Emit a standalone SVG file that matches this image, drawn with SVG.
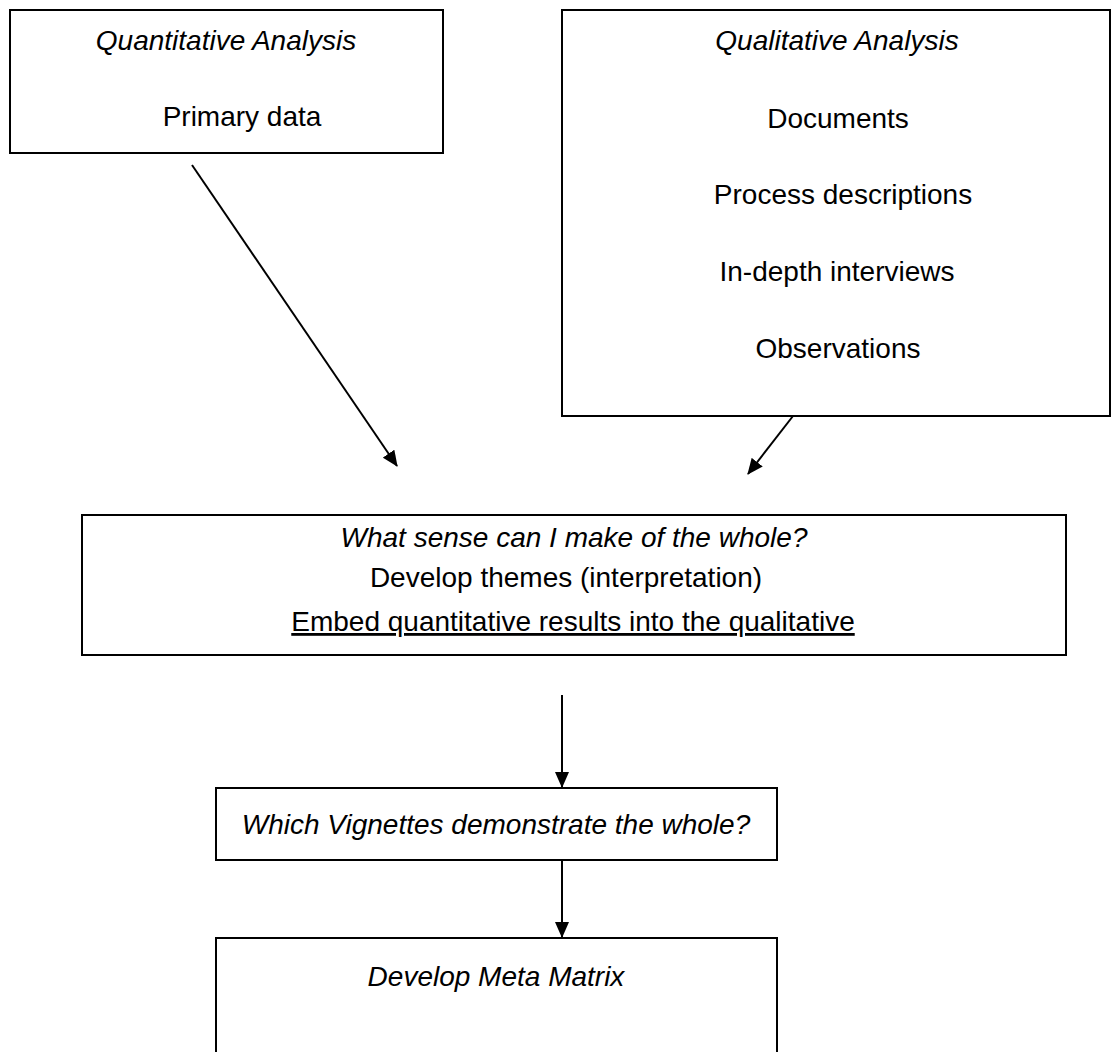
<svg xmlns="http://www.w3.org/2000/svg" width="1111" height="1052" viewBox="0 0 1111 1052">
<style>
.box{fill:#fff;stroke:#000;stroke-width:2}
.t{font-family:"Liberation Sans",Arial,sans-serif;font-size:28px;fill:#000;text-anchor:middle}
.i{font-style:italic}
.c{stroke:#000;stroke-width:2;fill:none}
</style>
<defs>
<marker id="ah" markerWidth="16" markerHeight="14" refX="15" refY="7" orient="auto" markerUnits="userSpaceOnUse" viewBox="0 0 16 14">
<path d="M0,0 L16,7 L0,14 z" fill="#000"/>
</marker>
</defs>
<rect width="1111" height="1052" fill="#fff"/>
<g id="connectors">
<line class="c" x1="192" y1="165" x2="397" y2="466" marker-end="url(#ah)"/>
<line class="c" x1="793" y1="416" x2="748" y2="474" marker-end="url(#ah)"/>
<line class="c" x1="562" y1="695" x2="562" y2="787" marker-end="url(#ah)"/>
<line class="c" x1="562" y1="860" x2="562" y2="937" marker-end="url(#ah)"/>
</g>
<g id="quant">
<rect class="box" x="10" y="10" width="433" height="143"/>
<text class="t i" x="226" y="50">Quantitative Analysis</text>
<text class="t" x="242" y="126">Primary data</text>
</g>
<g id="qual">
<rect class="box" x="562" y="10" width="548" height="406"/>
<text class="t i" x="837" y="50">Qualitative Analysis</text>
<text class="t" x="838" y="128">Documents</text>
<text class="t" x="843" y="204">Process descriptions</text>
<text class="t" x="837" y="281">In-depth interviews</text>
<text class="t" x="838" y="358">Observations</text>
</g>
<g id="sense">
<rect class="box" x="82" y="515" width="984" height="140"/>
<text class="t i" x="574" y="547">What sense can I make of the whole?</text>
<text class="t" x="566" y="587">Develop themes (interpretation)</text>
<text class="t" x="573" y="631" text-decoration="underline">Embed quantitative results into the qualitative</text>
</g>
<g id="vignettes">
<rect class="box" x="216" y="788" width="561" height="72"/>
<text class="t i" x="496" y="834">Which Vignettes demonstrate the whole?</text>
</g>
<g id="meta">
<path class="box" d="M216,1060 V938 H777 V1060"/>
<text class="t i" x="496" y="986">Develop Meta Matrix</text>
</g>
</svg>
